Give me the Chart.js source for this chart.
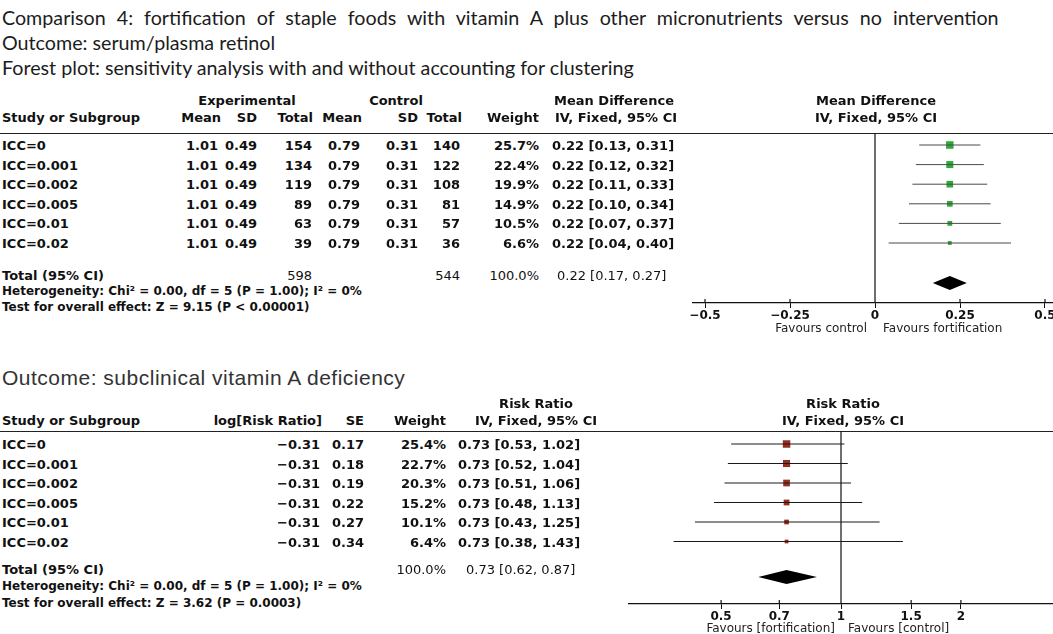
<!DOCTYPE html>
<html>
<head>
<meta charset="utf-8">
<script src="https://cdn.jsdelivr.net/npm/chart.js@4.4.1/dist/chart.umd.min.js"></script>
<style>
  body { margin: 0; width: 1053px; height: 634px; overflow: hidden; background: #fff; position: relative; color: #111; }
  .t { position: absolute; white-space: nowrap; line-height: 1; }
  .title { font: 19.7px Lato, sans-serif; color: #1c1c1c; }
  .wide { word-spacing: 6px; }
  .outcome { font: 21px "Liberation Sans", Arial, sans-serif; letter-spacing: 0.5px; color: #333; }
  .b { font: bold 13px "DejaVu Sans", sans-serif; }
  .h { font: bold 13px "DejaVu Sans", sans-serif; }
  .n { font: 13px "DejaVu Sans", sans-serif; }
  .foot { font: bold 12px "DejaVu Sans", sans-serif; }
  .fav { font: 12px "DejaVu Sans", sans-serif; color: #222; }
  .rule { position: absolute; left: 0; width: 1053px; height: 0; border-top: 1.5px solid #222; }
  canvas { position: absolute; }
</style>
</head>
<body>
<div class="rule" style="top:133px"></div>
<div class="rule" style="top:431px"></div>
<canvas id="mdChart" width="500" height="250" style="left:600px;top:90px"></canvas>
<canvas id="rrChart" width="540" height="244" style="left:560px;top:390px"></canvas>
<script>
// sensitivity rows (same labels in both outcomes)
const studies = ['ICC=0', 'ICC=0.001', 'ICC=0.002', 'ICC=0.005', 'ICC=0.01', 'ICC=0.02'];

// serum/plasma retinol - mean difference
const expMean = [1.01, 1.01, 1.01, 1.01, 1.01, 1.01];
const expSD = [0.49, 0.49, 0.49, 0.49, 0.49, 0.49];
const expN = [154, 134, 119, 89, 63, 39];
const ctrlMean = [0.79, 0.79, 0.79, 0.79, 0.79, 0.79];
const ctrlSD = [0.31, 0.31, 0.31, 0.31, 0.31, 0.31];
const ctrlN = [140, 122, 108, 81, 57, 36];
const mdWeight = [25.7, 22.4, 19.9, 14.9, 10.5, 6.6];
const md = [0.22, 0.22, 0.22, 0.22, 0.22, 0.22];
const mdLow = [0.13, 0.12, 0.11, 0.10, 0.07, 0.04];
const mdHigh = [0.31, 0.32, 0.33, 0.34, 0.37, 0.40];
const mdTotal = [0.22, 0.17, 0.27];   // estimate, low, high
const mdTotalN = [598, 544];
const mdTicks = [-0.5, -0.25, 0, 0.25, 0.5];

// subclinical vitamin A deficiency - risk ratio
const logRR = [-0.31, -0.31, -0.31, -0.31, -0.31, -0.31];
const rrSE = [0.17, 0.18, 0.19, 0.22, 0.27, 0.34];
const rrWeight = [25.4, 22.7, 20.3, 15.2, 10.1, 6.4];
const rr = [0.73, 0.73, 0.73, 0.73, 0.73, 0.73];
const rrLow = [0.53, 0.52, 0.51, 0.48, 0.43, 0.38];
const rrHigh = [1.02, 1.04, 1.06, 1.13, 1.25, 1.43];
const rrTotal = [0.73, 0.62, 0.87];
const rrTicks = [0.5, 0.7, 1, 1.5, 2];

const het = 'Heterogeneity: Chi\u00b2 = 0.00, df = 5 (P = 1.00); I\u00b2 = 0%';

function txt(s, x, y, cls, align) {
    const d = document.createElement('div');
    d.className = 't ' + cls;
    d.textContent = s;
    const tx = align === 'r' ? '-100%' : align === 'c' ? '-50%' : '0';
    d.style.left = x + 'px';
    d.style.top = y + 'px';
    d.style.transform = `translate(${tx}, -50%)`;
    document.body.appendChild(d);
}
const f2 = v => (v < 0 ? '\u2212' : '') + Math.abs(v).toFixed(2);
const ci = (e, l, h) => `${f2(e)} [${f2(l)}, ${f2(h)}]`;

// titles
txt('Comparison 4: fortification of staple foods with vitamin A plus other micronutrients versus no intervention', 2, 17, 'title wide');
txt('Outcome: serum/plasma retinol', 2, 42, 'title');
txt('Forest plot: sensitivity analysis with and without accounting for clustering', 2, 67, 'title');

// ---- top table ----
const topRow = i => 145 + 19.6 * i;
txt('Experimental', 247, 100, 'h', 'c');
txt('Control', 396, 100, 'h', 'c');
txt('Mean Difference', 614, 100, 'h', 'c');
txt('Mean Difference', 876, 100, 'h', 'c');
txt('Study or Subgroup', 2, 117, 'h');
txt('Mean', 221, 117, 'h', 'r');
txt('SD', 257, 117, 'h', 'r');
txt('Total', 313, 117, 'h', 'r');
txt('Mean', 362, 117, 'h', 'r');
txt('SD', 418, 117, 'h', 'r');
txt('Total', 462, 117, 'h', 'r');
txt('Weight', 539, 117, 'h', 'r');
txt('IV, Fixed, 95% CI', 616, 117, 'h', 'c');
txt('IV, Fixed, 95% CI', 876, 117, 'h', 'c');
studies.forEach((s, i) => {
    const y = topRow(i);
    txt(s, 2, y, 'b');
    txt(f2(expMean[i]), 218, y, 'b', 'r');
    txt(f2(expSD[i]), 257, y, 'b', 'r');
    txt(String(expN[i]), 312, y, 'b', 'r');
    txt(f2(ctrlMean[i]), 360, y, 'b', 'r');
    txt(f2(ctrlSD[i]), 418, y, 'b', 'r');
    txt(String(ctrlN[i]), 460, y, 'b', 'r');
    txt(mdWeight[i].toFixed(1) + '%', 539, y, 'b', 'r');
    txt(ci(md[i], mdLow[i], mdHigh[i]), 552, y, 'b');
});
txt('Total (95% CI)', 2, 275, 'h');
txt(String(mdTotalN[0]), 312, 275, 'n', 'r');
txt(String(mdTotalN[1]), 460, 275, 'n', 'r');
txt('100.0%', 539, 275, 'n', 'r');
txt(ci(mdTotal[0], mdTotal[1], mdTotal[2]), 557, 275, 'n');
txt(het, 2, 291, 'foot');
txt('Test for overall effect: Z = 9.15 (P < 0.00001)', 2, 307, 'foot');
txt('Favours control', 867, 328, 'fav', 'r');
txt('Favours fortification', 883, 328, 'fav');

// ---- bottom table ----
const botRow = i => 444 + 19.5 * i;
txt('Outcome: subclinical vitamin A deficiency', 2, 378, 'outcome');
txt('Risk Ratio', 536, 403, 'h', 'c');
txt('Risk Ratio', 843, 403, 'h', 'c');
txt('Study or Subgroup', 2, 420, 'h');
txt('log[Risk Ratio]', 322, 420, 'h', 'r');
txt('SE', 364, 420, 'h', 'r');
txt('Weight', 446, 420, 'h', 'r');
txt('IV, Fixed, 95% CI', 536, 420, 'h', 'c');
txt('IV, Fixed, 95% CI', 843, 420, 'h', 'c');
studies.forEach((s, i) => {
    const y = botRow(i);
    txt(s, 2, y, 'b');
    txt(f2(logRR[i]), 320, y, 'b', 'r');
    txt(f2(rrSE[i]), 364, y, 'b', 'r');
    txt(rrWeight[i].toFixed(1) + '%', 446, y, 'b', 'r');
    txt(ci(rr[i], rrLow[i], rrHigh[i]), 458, y, 'b');
});
txt('Total (95% CI)', 2, 569, 'h');
txt('100.0%', 446, 569, 'n', 'r');
txt(ci(rrTotal[0], rrTotal[1], rrTotal[2]), 466, 569, 'n');
txt(het, 2, 586, 'foot');
txt('Test for overall effect: Z = 3.62 (P = 0.0003)', 2, 603, 'foot');
txt('Favours [fortification]', 835, 628, 'fav', 'r');
txt('Favours [control]', 848, 628, 'fav');

// ---- forest plots ----
const forestPlugin = {
    id: 'forest',
    beforeDatasetsDraw(chart, args, opts) {
        const { ctx, chartArea, scales } = chart;
        const x0 = scales.x.getPixelForValue(opts.nullValue);
        ctx.save();
        ctx.strokeStyle = '#111';
        ctx.lineWidth = 1.2;
        ctx.beginPath();
        ctx.moveTo(x0, chartArea.top);
        ctx.lineTo(x0, chartArea.bottom);
        // RevMan ticks poke a little above the axis too
        scales.x.ticks.forEach(t => {
            const px = scales.x.getPixelForValue(t.value);
            ctx.moveTo(px, chartArea.bottom - 4);
            ctx.lineTo(px, chartArea.bottom);
        });
        ctx.stroke();
        ctx.restore();
    },
    afterDatasetsDraw(chart, args, opts) {
        const { ctx, scales: { x, y } } = chart;
        const [est, lo, hi] = opts.total;
        const yc = y.getPixelForValue(opts.totalRow);
        ctx.save();
        ctx.fillStyle = '#000';
        ctx.beginPath();
        ctx.moveTo(x.getPixelForValue(lo), yc);
        ctx.lineTo(x.getPixelForValue(est), yc - 7);
        ctx.lineTo(x.getPixelForValue(hi), yc);
        ctx.lineTo(x.getPixelForValue(est), yc + 7);
        ctx.closePath();
        ctx.fill();
        ctx.restore();
    }
};

function forestData(lo, hi, est, weight, lineColor, boxColor) {
    const sets = lo.map((l, i) => ({
        data: [{ x: l, y: i }, { x: hi[i], y: i }],
        showLine: true,
        borderColor: lineColor,
        borderWidth: 1,
        pointRadius: 0
    }));
    sets.push({
        data: est.map((e, i) => ({ x: e, y: i })),
        pointStyle: 'rect',
        pointRadius: weight.map(w => Math.sqrt(w) * 1.05),
        backgroundColor: boxColor,
        borderWidth: 0
    });
    return sets;
}

function forestChart(id, g) {
    return new Chart(document.getElementById(id), {
        type: 'scatter',
        data: { datasets: forestData(g.lo, g.hi, g.est, g.weight, g.lineColor, g.boxColor) },
        options: {
            responsive: false,
            animation: false,
            layout: { padding: g.padding },
            plugins: {
                legend: { display: false },
                tooltip: { enabled: false },
                forest: { nullValue: g.nullValue, total: g.total, totalRow: g.totalRow }
            },
            scales: {
                x: {
                    type: g.xType,
                    min: g.xMin,
                    max: g.xMax,
                    afterBuildTicks: ax => { ax.ticks = g.ticks.map(v => ({ value: v })); },
                    afterFit: ax => { ax.height = g.axisHeight; },
                    grid: { drawOnChartArea: false, tickLength: 5, color: '#111' },
                    border: { color: '#111', width: 1.2 },
                    ticks: {
                        autoSkip: false,
                        maxRotation: 0,
                        padding: 1,
                        color: '#111',
                        font: { family: 'DejaVu Sans', size: 12, weight: 'bold' },
                        callback: g.fmt
                    }
                },
                y: { type: 'linear', display: false, reverse: true, min: g.yMin, max: g.yMax }
            }
        },
        plugins: [forestPlugin]
    });
}

// top plot: chart area 693..1053 x 133..303, zero at 875, 340 px per unit
forestChart('mdChart', {
    lo: mdLow, hi: mdHigh, est: md, weight: mdWeight,
    lineColor: '#4a4a4a', boxColor: '#2fa83a',
    total: mdTotal, nullValue: 0, ticks: mdTicks,
    xType: 'linear', xMin: (693 - 875) / 340, xMax: (1053 - 875) / 340,
    yMin: (133 - 145) / 19.6, yMax: (303 - 145) / 19.6, totalRow: (283 - 145) / 19.6,
    padding: { left: 93, right: 47, top: 43, bottom: 0 }, axisHeight: 37,
    fmt: v => v === 0 ? '0' : (v < 0 ? '\u2212' : '') + Math.abs(v)
});

// bottom plot: log scale, RR=1 at 841, chart area 629..1053 x 431..604
forestChart('rrChart', {
    lo: rrLow, hi: rrHigh, est: rr, weight: rrWeight,
    lineColor: '#1a1a1a', boxColor: '#962d1e',
    total: rrTotal, nullValue: 1, ticks: rrTicks,
    xType: 'logarithmic', xMin: Math.exp((629 - 841) / 173), xMax: Math.exp((1053 - 841) / 173),
    yMin: (431 - 444) / 19.5, yMax: (604 - 444) / 19.5, totalRow: (577 - 444) / 19.5,
    padding: { left: 69, right: 47, top: 41, bottom: 0 }, axisHeight: 30,
    fmt: v => String(v)
});
</script>
</body>
</html>
